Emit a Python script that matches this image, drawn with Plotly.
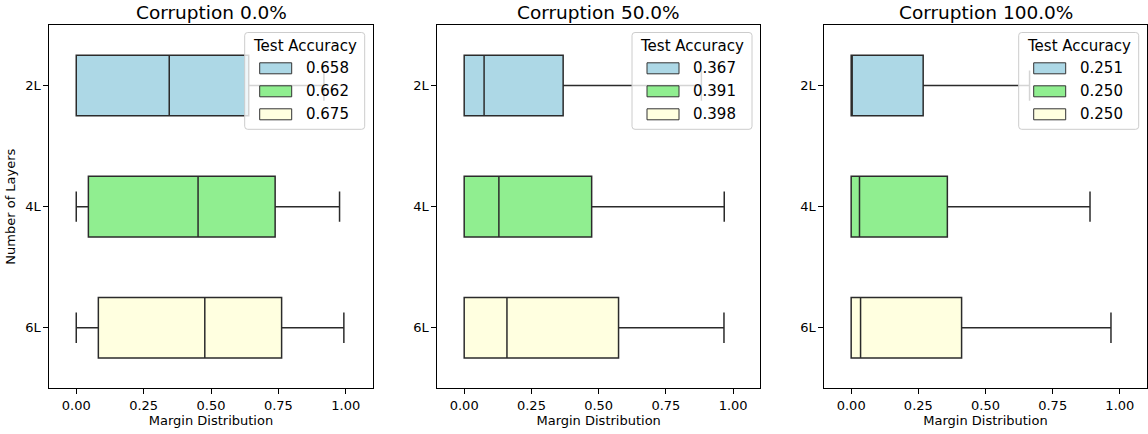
import plotly.graph_objects as go

# ---------------- data ----------------
layers = ["2L", "4L", "6L"]
corruptions = ["Corruption 0.0%", "Corruption 50.0%", "Corruption 100.0%"]
colors = ["#ADD8E6", "#90EE90", "#FFFFE0"]

acc_0 = [0.658, 0.662, 0.675]
acc_50 = [0.367, 0.391, 0.398]
acc_100 = [0.251, 0.250, 0.250]

lower_0 = [0.0, 0.0, 0.0]
q1_0 = [0.0, 0.045, 0.082]
med_0 = [0.345, 0.452, 0.477]
q3_0 = [0.640, 0.738, 0.762]
upper_0 = [0.919, 0.977, 0.993]

lower_50 = [0.0, 0.0, 0.0]
q1_50 = [0.0, 0.0, 0.0]
med_50 = [0.074, 0.129, 0.159]
q3_50 = [0.368, 0.474, 0.574]
upper_50 = [0.882, 0.967, 0.966]

lower_100 = [0.0, 0.0, 0.0]
q1_100 = [0.0, 0.0, 0.0]
med_100 = [0.001, 0.031, 0.035]
q3_100 = [0.268, 0.358, 0.411]
upper_100 = [0.664, 0.889, 0.967]

panels = [
    (acc_0, lower_0, q1_0, med_0, q3_0, upper_0),
    (acc_50, lower_50, q1_50, med_50, q3_50, upper_50),
    (acc_100, lower_100, q1_100, med_100, q3_100, upper_100),
]

# ---------------- layout geometry (pixels) ----------------
W, H = 1148, 434
ax_px = [(49.3, 372.7), (437.3, 760.0), (824.3, 1146.7)]
ax_top, ax_bot = 25.0, 388.3
FONT = "DejaVu Sans"


def px(x):
    return x / W


def py(y):
    return 1 - y / H


fig = go.Figure()
shapes = []
annotations = []

for i, (accs, lo, q1, med, q3, up) in enumerate(panels):
    xa = "x" if i == 0 else f"x{i+1}"
    ya = "y" if i == 0 else f"y{i+1}"
    for j, lay in enumerate(layers):
        fig.add_trace(go.Box(
            y=[lay], q1=[q1[j]], median=[med[j]], q3=[q3[j]],
            lowerfence=[lo[j]], upperfence=[up[j]],
            orientation="h", width=0.5, whiskerwidth=0.5,
            fillcolor=colors[j], line=dict(color="#2b2b2b", width=1.5),
            boxpoints=False, name=f"{accs[j]:.3f}", showlegend=False,
            xaxis=xa, yaxis=ya, hoverinfo="skip",
        ))

    x0, x1 = ax_px[i]
    axis_common = dict(showline=True, mirror=True, linecolor="black", linewidth=1,
                       ticks="outside", ticklen=5, tickwidth=1, tickcolor="black",
                       showgrid=False, zeroline=False, automargin=False,
                       tickfont=dict(family=FONT, size=13, color="black"))
    fig.layout[f"xaxis{'' if i == 0 else i+1}"] = dict(
        domain=[px(x0), px(x1)], range=[-0.1, 1.1], anchor=ya,
        tickvals=[0, 0.25, 0.5, 0.75, 1.0], ticktext=["0.00", "0.25", "0.50", "0.75", "1.00"],
        title=dict(text="Margin Distribution", font=dict(family=FONT, size=13, color="black"), standoff=3),
        **axis_common)
    ydict = dict(domain=[py(ax_bot), py(ax_top)], anchor=xa, type="category",
                 categoryorder="array", categoryarray=layers, range=[2.5, -0.5],
                 **axis_common)
    if i == 0:
        ydict["title"] = dict(text="Number of Layers", font=dict(family=FONT, size=13, color="black"), standoff=6)
    fig.layout[f"yaxis{'' if i == 0 else i+1}"] = ydict

    # subplot title
    annotations.append(dict(text=corruptions[i], x=px((x0 + x1) / 2), y=py(12.5),
                            xref="paper", yref="paper", xanchor="center", yanchor="middle",
                            showarrow=False, font=dict(family=FONT, size=18.5, color="black")))

    # legend box (manual, matplotlib style)
    lx1 = x1 - 8.0
    lx0 = lx1 - 120.0
    ly0, ly1 = 32.5, 129.3
    r = 3.0
    path = (f"M{px(lx0 + r)},{py(ly0)} L{px(lx1 - r)},{py(ly0)} Q{px(lx1)},{py(ly0)} {px(lx1)},{py(ly0 + r)} "
            f"L{px(lx1)},{py(ly1 - r)} Q{px(lx1)},{py(ly1)} {px(lx1 - r)},{py(ly1)} "
            f"L{px(lx0 + r)},{py(ly1)} Q{px(lx0)},{py(ly1)} {px(lx0)},{py(ly1 - r)} "
            f"L{px(lx0)},{py(ly0 + r)} Q{px(lx0)},{py(ly0)} {px(lx0 + r)},{py(ly0)} Z")
    shapes.append(dict(type="path", path=path, xref="paper", yref="paper",
                       fillcolor="rgba(255,255,255,0.8)", line=dict(color="#cccccc", width=1),
                       layer="above"))
    annotations.append(dict(text="Test Accuracy", x=px((lx0 + lx1) / 2), y=py(ly0 + 13.5),
                            xref="paper", yref="paper", xanchor="center", yanchor="middle",
                            showarrow=False, font=dict(family=FONT, size=15, color="black")))
    for j in range(3):
        cy = ly0 + 35.8 + 23.0 * j
        shapes.append(dict(type="rect", xref="paper", yref="paper",
                           x0=px(lx0 + 15), x1=px(lx0 + 47), y0=py(cy - 5.5), y1=py(cy + 5.5),
                           fillcolor=colors[j], line=dict(color="#333333", width=1), layer="above"))
        annotations.append(dict(text=f"{accs[j]:.3f}", x=px(lx0 + 59), y=py(cy),
                                xref="paper", yref="paper", xanchor="left", yanchor="middle",
                                showarrow=False, font=dict(family=FONT, size=15, color="black")))

fig.update_layout(
    width=W, height=H, margin=dict(l=0, r=0, t=0, b=0),
    paper_bgcolor="white", plot_bgcolor="white",
    boxmode="overlay", showlegend=False,
    shapes=shapes, annotations=annotations,
    font=dict(family=FONT, color="black"),
)

fig.write_html("out.html", config={"displayModeBar": False},
               post_script="document.body.style.margin='0';document.body.style.overflow='hidden';")
